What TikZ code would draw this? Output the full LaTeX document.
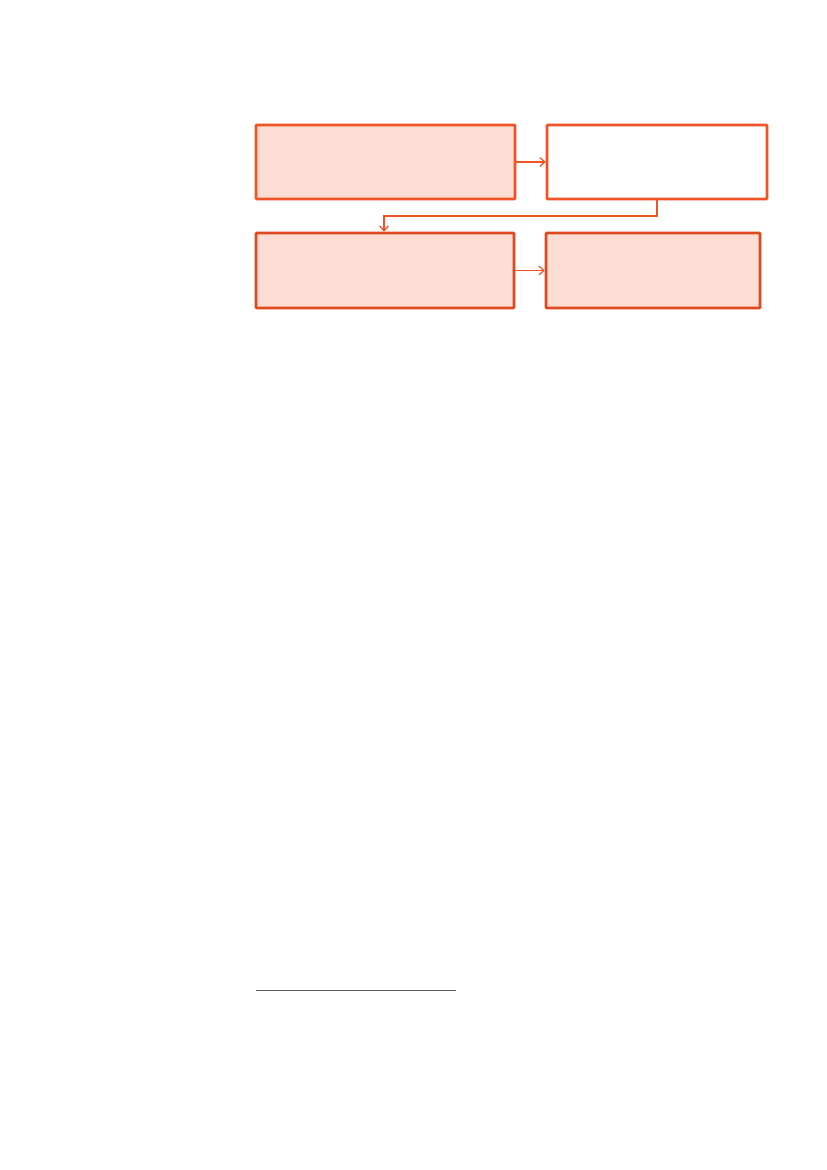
\documentclass[tikz,border=0pt]{standalone}
\usetikzlibrary{arrows.meta}
\definecolor{edgeA}{HTML}{F25325}
\definecolor{edgeB}{HTML}{E0481F}
\definecolor{boxfill}{HTML}{FCDDD4}
\definecolor{rulegray}{HTML}{5A5A5A}
\begin{document}
\begin{tikzpicture}[x=1pt,y=-1pt,
  stepbox/.style={draw, line width=2.6pt, rounded corners=0.8pt, inner sep=0pt},
  conn/.style={draw=edgeA, line width=1.2pt, -{Straight Barb[length=5pt,width=9pt,line width=1.2pt]}}]
\useasboundingbox (0,0) rectangle (827,1170);
\fill[white] (0,0) rectangle (827,1170);
\node[stepbox, draw=edgeA, fill=boxfill, minimum width=259pt, minimum height=74pt] (a) at (385.5,162) {};
\node[stepbox, draw=edgeA, fill=white, minimum width=220pt, minimum height=74pt] (b) at (657,162) {};
\node[stepbox, draw=edgeB, fill=boxfill, minimum width=258pt, minimum height=75pt] (c) at (385,270.5) {};
\node[stepbox, draw=edgeB, fill=boxfill, minimum width=214pt, minimum height=75pt] (d) at (653,270.5) {};
\draw[conn] (a.east) -- (b.west);
\draw[conn] (c.east) -- (d.west);
\coordinate (k1) at (657,216);
\coordinate (k2) at (384,216);
\draw[conn] (b.south) -- (k1) -- (k2) -- (k2 |- c.north);
\coordinate (r1) at (256,990);
\coordinate (r2) at (456,990);
\draw[rulegray, line width=1pt] (r1) -- (r2);
\end{tikzpicture}
\end{document}
